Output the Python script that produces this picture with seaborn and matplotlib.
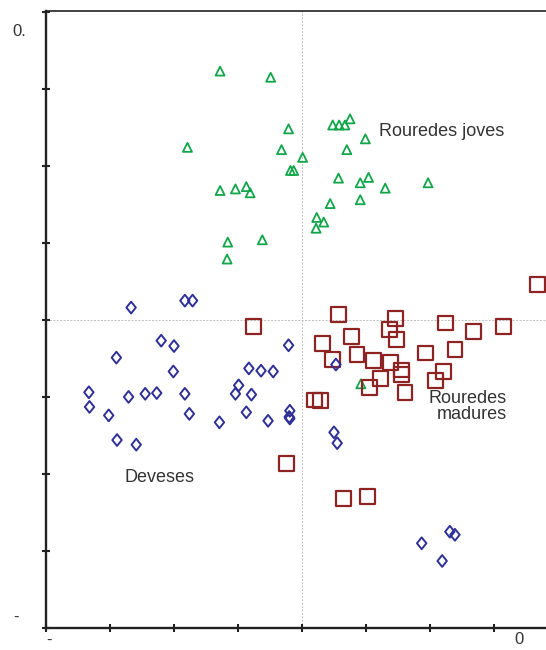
import matplotlib.pyplot as plt
import seaborn as sns
import pandas as pd
from matplotlib.path import Path

# scores (axis units)
joves_x = [-1.28, -0.49, -0.21, -1.79, -0.32, 0.01, -0.18, -0.13, 0.48, 0.58, 0.67, 0.75,
           0.99, 0.70, 0.57, 0.91, 1.04, 1.30, 1.97, 0.91, 0.44, 0.23, 0.34, 0.22,
           -1.28, -1.04, -0.87, -0.81, -1.16, -0.62, -1.17, 0.92]
joves_y = [3.23, 3.15, 2.48, 2.24, 2.21, 2.11, 1.94, 1.94, 2.53, 2.53, 2.53, 2.61,
           2.35, 2.21, 1.84, 1.78, 1.85, 1.71, 1.78, 1.56, 1.51, 1.33, 1.27, 1.19,
           1.68, 1.70, 1.73, 1.65, 1.01, 1.04, 0.79, -0.83]

madures_x = [3.68, 0.57, 1.46, 1.37, -0.76, 2.24, 3.15, 2.68, 0.77, 1.47, 0.32, 2.39,
             1.93, 0.86, 0.48, 1.12, 1.38, 1.56, 1.56, 2.21, 2.09, 1.22, 1.05, 1.61,
             0.19, 0.29, -0.24, 0.65, 1.03]
madures_y = [0.46, 0.07, 0.02, -0.12, -0.09, -0.04, -0.09, -0.15, -0.21, -0.26, -0.31, -0.39,
             -0.43, -0.45, -0.52, -0.53, -0.55, -0.65, -0.71, -0.67, -0.79, -0.76, -0.88, -0.94,
             -1.04, -1.05, -1.87, -2.32, -2.29]

deveses_x = [-2.67, -1.83, -1.71, -2.20, -2.00, -2.90, -0.21, -2.01, -0.83, -0.64, -0.45, 0.53,
             -3.33, -3.32, -2.71, -2.45, -2.27, -1.83, -0.99, -1.04, -0.79, -3.02, -1.76, -0.87,
             -1.29, -0.53, -0.19, -0.20, -0.19, -2.89, -2.59, 0.50, 0.55, 1.87, 2.31, 2.39, 2.19]
deveses_y = [0.16, 0.25, 0.25, -0.27, -0.34, -0.49, -0.33, -0.67, -0.63, -0.66, -0.67, -0.58,
             -0.94, -1.13, -1.00, -0.96, -0.95, -0.96, -0.85, -0.96, -0.97, -1.24, -1.22, -1.20,
             -1.33, -1.31, -1.18, -1.26, -1.28, -1.56, -1.62, -1.46, -1.60, -2.90, -2.75, -2.79, -3.13]

df = pd.concat([
    pd.DataFrame({'x': joves_x, 'y': joves_y, 'grup': 'Rouredes joves'}),
    pd.DataFrame({'x': madures_x, 'y': madures_y, 'grup': 'Rouredes madures'}),
    pd.DataFrame({'x': deveses_x, 'y': deveses_y, 'grup': 'Deveses'}),
])

sns.set_style('white')
plt.rcParams['font.family'] = ['Liberation Sans', 'DejaVu Sans']

fig = plt.figure(figsize=(5.46, 6.5), dpi=100)
ax = fig.add_axes([46 / 546, 22 / 650, 500 / 546, 617 / 650])

# reference lines through the origin
ax.axhline(0, color='#bdbdbd', lw=0.7, ls=(0, (2, 1.5)), zorder=0)
ax.axvline(0, color='#bdbdbd', lw=0.7, ls=(0, (2, 1.5)), zorder=0)

diamond = Path([(0, 1), (0.8, 0), (0, -1), (-0.8, 0), (0, 1)],
               [Path.MOVETO, Path.LINETO, Path.LINETO, Path.LINETO, Path.CLOSEPOLY])

style = {
    'Rouredes joves': dict(marker='^', s=42, edgecolor='#12a64a', linewidth=1.3),
    'Rouredes madures': dict(marker='s', s=115, edgecolor='#8e2323', linewidth=1.6),
    'Deveses': dict(marker=diamond, s=72, edgecolor='#2e3096', linewidth=1.4),
}

for grup, kw in style.items():
    sub = df[df['grup'] == grup]
    sns.scatterplot(data=sub, x='x', y='y', facecolor='none', ax=ax, legend=False, **kw)

ax.set_xlim(-4, 3.8125)
ax.set_ylim(-4, 4.01)
ax.set_xticks(range(-4, 4))
ax.set_yticks(range(-4, 5))
ax.set_xticklabels([])
ax.set_yticklabels([])
ax.set_xlabel('')
ax.set_ylabel('')
ax.tick_params(bottom=True, left=True, direction='inout', length=6, width=1.5, color='#222222')

for side in ['left', 'bottom', 'top']:
    ax.spines[side].set_color('#222222')
    ax.spines[side].set_linewidth(1.7)
ax.spines['top'].set_linewidth(1.2)
ax.spines['right'].set_visible(False)

txt = dict(fontsize=13, color='#333333')
ax.text(1.20, 2.45, 'Rouredes joves', ha='left', va='center', **txt)
ax.text(3.20, -1.12, 'Rouredes\nmadures', ha='right', va='center', multialignment='right',
        linespacing=0.9, **txt)
ax.text(-2.77, -2.04, 'Deveses', ha='left', va='center', **txt)

# truncated axis labels as they appear in the source
lab = dict(fontsize=12, color='#333333', va='center')
fig.text(12 / 546, 1 - 32 / 650, '0.', **lab)
fig.text(13 / 546, 1 - 617 / 650, '-', **lab)
fig.text(46 / 546, 1 - 640 / 650, '-', **lab)
fig.text(514 / 546, 1 - 640 / 650, '0', **lab)

fig.savefig('out.png', dpi=100)
